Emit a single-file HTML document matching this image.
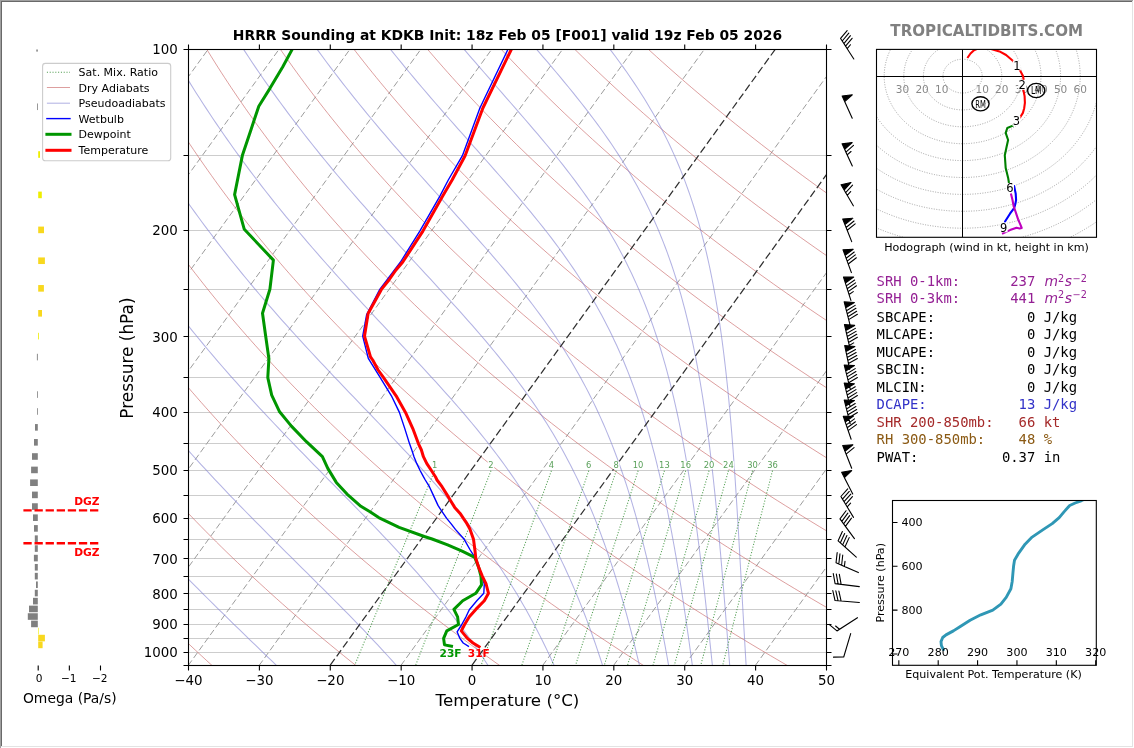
<!DOCTYPE html>
<html><head><meta charset="utf-8"><title>HRRR Sounding KDKB</title>
<style>html,body{margin:0;padding:0;background:#fff;overflow:hidden}svg{display:block}</style>
</head><body>
<svg width="1134" height="748" viewBox="0 0 1134 748">
<defs>
<clipPath id="cm"><rect x="188.5" y="49.5" width="638.0" height="616.0"/></clipPath>
<clipPath id="ch"><rect x="876.5" y="49.4" width="220" height="187.9"/></clipPath>
<clipPath id="ct"><rect x="892.5" y="500.5" width="203.8" height="164.8"/></clipPath>
<clipPath id="co"><rect x="0" y="49.5" width="180" height="616"/></clipPath>
</defs>
<g clip-path="url(#cm)">
<path d="M188.5 155.5H826.5M188.5 230.5H826.5M188.5 289.5H826.5M188.5 336.5H826.5M188.5 377.5H826.5M188.5 412.5H826.5M188.5 443.5H826.5M188.5 470.5H826.5M188.5 495.5H826.5M188.5 518.5H826.5M188.5 539.5H826.5M188.5 558.5H826.5M188.5 576.5H826.5M188.5 593.5H826.5M188.5 609.5H826.5M188.5 624.5H826.5M188.5 638.5H826.5M188.5 652.5H826.5" stroke="#cdcdcd" stroke-width="1.1" fill="none"/>
<path d="M-308.08 665.6L139.3 46.47M-237.19 665.6L210.19 46.47M-166.3 665.6L281.08 46.47M-95.42 665.6L351.97 46.47M-24.53 665.6L422.86 46.47M46.36 665.6L493.75 46.47M117.25 665.6L564.64 46.47M188.14 665.6L635.52 46.47M259.03 665.6L706.41 46.47M400.81 665.6L848.19 46.47M542.58 665.6L989.97 46.47M613.47 665.6L1060.86 46.47M684.36 665.6L1131.75 46.47M755.25 665.6L1202.64 46.47M826.14 665.6L1273.52 46.47" stroke="#9c9c9c" stroke-width="1.0" stroke-dasharray="6.4 3.0" fill="none"/>
<path d="M212.45 665.85 L206.79 660.69 L201.19 655.52 L195.64 650.36 L190.14 645.2 L184.69 640.04 L179.3 634.88 L173.95 629.72 L168.66 624.56 L163.42 619.39 L158.22 614.23 L153.08 609.07 L147.99 603.91 L142.94 598.75 L137.95 593.59 L133 588.42 L128.1 583.26 L123.25 578.1 L118.45 572.94 L113.7 567.78 L108.99 562.62 L104.33 557.46 L99.72 552.29 L95.15 547.13 L90.63 541.97 L86.16 536.81 L81.73 531.65 L77.35 526.49 L73.02 521.33 L68.73 516.16 L64.48 511 L60.28 505.84 L56.12 500.68 L52.01 495.52 L47.94 490.36 L43.91 485.19 L39.93 480.03 L35.99 474.87 L32.1 469.71 L28.24 464.55 L24.43 459.39 L20.67 454.23 L16.94 449.06 L13.25 443.9 L9.61 438.74 L6.01 433.58 L2.45 428.42 L-1.07 423.26 L-4.55 418.1 L-7.99 412.93 L-11.39 407.77 L-14.75 402.61 L-18.07 397.45 L-21.35 392.29 L-24.59 387.13 L-27.8 381.96 L-30.96 376.8 L-34.08 371.64 L-37.17 366.48 L-40.22 361.32 L-43.23 356.16 L-46.2 351 L-49.14 345.83 L-52.03 340.67 L-54.89 335.51 L-57.72 330.35 L-60.51 325.19 L-63.26 320.03 L-65.97 314.87 L-68.65 309.7 L-71.29 304.54 L-73.9 299.38 L-76.47 294.22 L-79.01 289.06 L-81.51 283.9 L-83.97 278.73 L-86.41 273.57 L-88.8 268.41 L-91.17 263.25 L-93.49 258.09 L-95.79 252.93 L-98.05 247.77 L-100.28 242.6 L-102.47 237.44 L-104.63 232.28 L-106.76 227.12 L-108.86 221.96 L-110.92 216.8 L-112.95 211.64 L-114.95 206.47 L-116.91 201.31 L-118.85 196.15 L-120.75 190.99 L-122.62 185.83 L-124.46 180.67 L-126.27 175.5 L-128.05 170.34 L-129.79 165.18 L-131.51 160.02 L-133.2 154.86 L-134.85 149.7 L-136.48 144.54 L-138.07 139.37 L-139.64 134.21 L-141.17 129.05 L-142.68 123.89 L-144.16 118.73 L-145.6 113.57 L-147.02 108.41 L-148.41 103.24 L-149.77 98.08 L-151.11 92.92 L-152.41 87.76 L-153.69 82.6 L-154.94 77.44 L-156.16 72.27 L-157.35 67.11 L-158.52 61.95 L-159.65 56.79 L-160.76 51.63 L-161.85 46.47M356.33 665.85 L349.87 660.69 L343.46 655.52 L337.12 650.36 L330.83 645.2 L324.59 640.04 L318.41 634.88 L312.29 629.72 L306.22 624.56 L300.21 619.39 L294.25 614.23 L288.35 609.07 L282.49 603.91 L276.7 598.75 L270.95 593.59 L265.26 588.42 L259.63 583.26 L254.04 578.1 L248.51 572.94 L243.03 567.78 L237.6 562.62 L232.22 557.46 L226.89 552.29 L221.61 547.13 L216.38 541.97 L211.21 536.81 L206.08 531.65 L201 526.49 L195.98 521.33 L191 516.16 L186.07 511 L181.19 505.84 L176.35 500.68 L171.57 495.52 L166.83 490.36 L162.14 485.19 L157.49 480.03 L152.9 474.87 L148.35 469.71 L143.84 464.55 L139.39 459.39 L134.97 454.23 L130.61 449.06 L126.29 443.9 L122.01 438.74 L117.78 433.58 L113.59 428.42 L109.45 423.26 L105.35 418.1 L101.3 412.93 L97.29 407.77 L93.32 402.61 L89.4 397.45 L85.51 392.29 L81.67 387.13 L77.88 381.96 L74.12 376.8 L70.41 371.64 L66.74 366.48 L63.11 361.32 L59.52 356.16 L55.97 351 L52.47 345.83 L49 340.67 L45.57 335.51 L42.19 330.35 L38.84 325.19 L35.54 320.03 L32.27 314.87 L29.04 309.7 L25.85 304.54 L22.7 299.38 L19.59 294.22 L16.52 289.06 L13.48 283.9 L10.48 278.73 L7.52 273.57 L4.6 268.41 L1.71 263.25 L-1.13 258.09 L-3.95 252.93 L-6.72 247.77 L-9.46 242.6 L-12.16 237.44 L-14.83 232.28 L-17.46 227.12 L-20.05 221.96 L-22.61 216.8 L-25.14 211.64 L-27.63 206.47 L-30.08 201.31 L-32.5 196.15 L-34.89 190.99 L-37.24 185.83 L-39.56 180.67 L-41.84 175.5 L-44.09 170.34 L-46.31 165.18 L-48.49 160.02 L-50.64 154.86 L-52.76 149.7 L-54.84 144.54 L-56.89 139.37 L-58.91 134.21 L-60.9 129.05 L-62.86 123.89 L-64.78 118.73 L-66.67 113.57 L-68.53 108.41 L-70.36 103.24 L-72.16 98.08 L-73.93 92.92 L-75.66 87.76 L-77.37 82.6 L-79.05 77.44 L-80.69 72.27 L-82.31 67.11 L-83.89 61.95 L-85.45 56.79 L-86.97 51.63 L-88.47 46.47M500.21 665.85 L492.94 660.69 L485.74 655.52 L478.59 650.36 L471.51 645.2 L464.49 640.04 L457.53 634.88 L450.63 629.72 L443.78 624.56 L437 619.39 L430.28 614.23 L423.61 609.07 L417 603.91 L410.45 598.75 L403.96 593.59 L397.53 588.42 L391.15 583.26 L384.83 578.1 L378.56 572.94 L372.35 567.78 L366.2 562.62 L360.1 557.46 L354.06 552.29 L348.07 547.13 L342.14 541.97 L336.26 536.81 L330.43 531.65 L324.66 526.49 L318.94 521.33 L313.27 516.16 L307.65 511 L302.09 505.84 L296.58 500.68 L291.12 495.52 L285.72 490.36 L280.36 485.19 L275.06 480.03 L269.8 474.87 L264.6 469.71 L259.44 464.55 L254.34 459.39 L249.28 454.23 L244.28 449.06 L239.32 443.9 L234.41 438.74 L229.55 433.58 L224.74 428.42 L219.98 423.26 L215.26 418.1 L210.59 412.93 L205.97 407.77 L201.39 402.61 L196.86 397.45 L192.38 392.29 L187.94 387.13 L183.55 381.96 L179.21 376.8 L174.9 371.64 L170.65 366.48 L166.44 361.32 L162.27 356.16 L158.15 351 L154.07 345.83 L150.04 340.67 L146.04 335.51 L142.1 330.35 L138.19 325.19 L134.33 320.03 L130.51 314.87 L126.73 309.7 L122.99 304.54 L119.3 299.38 L115.65 294.22 L112.04 289.06 L108.47 283.9 L104.94 278.73 L101.45 273.57 L98 268.41 L94.59 263.25 L91.22 258.09 L87.9 252.93 L84.61 247.77 L81.36 242.6 L78.15 237.44 L74.97 232.28 L71.84 227.12 L68.75 221.96 L65.69 216.8 L62.67 211.64 L59.69 206.47 L56.75 201.31 L53.84 196.15 L50.97 190.99 L48.14 185.83 L45.35 180.67 L42.59 175.5 L39.86 170.34 L37.18 165.18 L34.53 160.02 L31.91 154.86 L29.33 149.7 L26.79 144.54 L24.28 139.37 L21.81 134.21 L19.37 129.05 L16.96 123.89 L14.59 118.73 L12.26 113.57 L9.96 108.41 L7.69 103.24 L5.45 98.08 L3.25 92.92 L1.08 87.76 L-1.05 82.6 L-3.16 77.44 L-5.23 72.27 L-7.26 67.11 L-9.27 61.95 L-11.24 56.79 L-13.18 51.63 L-15.09 46.47M644.08 665.85 L636.01 660.69 L628.01 655.52 L620.07 650.36 L612.2 645.2 L604.39 640.04 L596.64 634.88 L588.96 629.72 L581.35 624.56 L573.79 619.39 L566.3 614.23 L558.88 609.07 L551.51 603.91 L544.21 598.75 L536.97 593.59 L529.79 588.42 L522.67 583.26 L515.62 578.1 L508.62 572.94 L501.68 567.78 L494.8 562.62 L487.99 557.46 L481.23 552.29 L474.53 547.13 L467.89 541.97 L461.3 536.81 L454.78 531.65 L448.31 526.49 L441.9 521.33 L435.54 516.16 L429.24 511 L423 505.84 L416.81 500.68 L410.68 495.52 L404.61 490.36 L398.58 485.19 L392.62 480.03 L386.71 474.87 L380.85 469.71 L375.04 464.55 L369.29 459.39 L363.59 454.23 L357.95 449.06 L352.35 443.9 L346.81 438.74 L341.32 433.58 L335.89 428.42 L330.5 423.26 L325.17 418.1 L319.88 412.93 L314.65 407.77 L309.46 402.61 L304.33 397.45 L299.25 392.29 L294.21 387.13 L289.22 381.96 L284.29 376.8 L279.4 371.64 L274.56 366.48 L269.77 361.32 L265.02 356.16 L260.32 351 L255.67 345.83 L251.07 340.67 L246.51 335.51 L242 330.35 L237.54 325.19 L233.12 320.03 L228.75 314.87 L224.42 309.7 L220.14 304.54 L215.9 299.38 L211.71 294.22 L207.56 289.06 L203.45 283.9 L199.39 278.73 L195.38 273.57 L191.4 268.41 L187.47 263.25 L183.58 258.09 L179.74 252.93 L175.93 247.77 L172.17 242.6 L168.46 237.44 L164.78 232.28 L161.14 227.12 L157.55 221.96 L153.99 216.8 L150.48 211.64 L147.01 206.47 L143.58 201.31 L140.19 196.15 L136.83 190.99 L133.52 185.83 L130.25 180.67 L127.02 175.5 L123.82 170.34 L120.66 165.18 L117.55 160.02 L114.47 154.86 L111.43 149.7 L108.42 144.54 L105.46 139.37 L102.53 134.21 L99.64 129.05 L96.79 123.89 L93.97 118.73 L91.19 113.57 L88.44 108.41 L85.74 103.24 L83.06 98.08 L80.43 92.92 L77.83 87.76 L75.26 82.6 L72.73 77.44 L70.24 72.27 L67.78 67.11 L65.36 61.95 L62.96 56.79 L60.61 51.63 L58.29 46.47M787.96 665.85 L779.09 660.69 L770.28 655.52 L761.55 650.36 L752.88 645.2 L744.29 640.04 L735.76 634.88 L727.3 629.72 L718.91 624.56 L710.59 619.39 L702.33 614.23 L694.14 609.07 L686.02 603.91 L677.97 598.75 L669.98 593.59 L662.06 588.42 L654.2 583.26 L646.4 578.1 L638.68 572.94 L631.01 567.78 L623.41 562.62 L615.87 557.46 L608.4 552.29 L600.99 547.13 L593.64 541.97 L586.35 536.81 L579.12 531.65 L571.96 526.49 L564.85 521.33 L557.81 516.16 L550.83 511 L543.91 505.84 L537.04 500.68 L530.24 495.52 L523.49 490.36 L516.81 485.19 L510.18 480.03 L503.61 474.87 L497.1 469.71 L490.64 464.55 L484.24 459.39 L477.9 454.23 L471.62 449.06 L465.39 443.9 L459.22 438.74 L453.1 433.58 L447.03 428.42 L441.03 423.26 L435.07 418.1 L429.17 412.93 L423.33 407.77 L417.54 402.61 L411.8 397.45 L406.11 392.29 L400.48 387.13 L394.9 381.96 L389.37 376.8 L383.89 371.64 L378.47 366.48 L373.09 361.32 L367.77 356.16 L362.5 351 L357.28 345.83 L352.1 340.67 L346.98 335.51 L341.91 330.35 L336.89 325.19 L331.91 320.03 L326.99 314.87 L322.11 309.7 L317.28 304.54 L312.5 299.38 L307.77 294.22 L303.08 289.06 L298.44 283.9 L293.85 278.73 L289.3 273.57 L284.8 268.41 L280.35 263.25 L275.94 258.09 L271.58 252.93 L267.26 247.77 L262.99 242.6 L258.76 237.44 L254.58 232.28 L250.44 227.12 L246.35 221.96 L242.3 216.8 L238.29 211.64 L234.33 206.47 L230.41 201.31 L226.53 196.15 L222.7 190.99 L218.9 185.83 L215.15 180.67 L211.44 175.5 L207.78 170.34 L204.15 165.18 L200.57 160.02 L197.02 154.86 L193.52 149.7 L190.06 144.54 L186.63 139.37 L183.25 134.21 L179.91 129.05 L176.61 123.89 L173.34 118.73 L170.12 113.57 L166.93 108.41 L163.79 103.24 L160.68 98.08 L157.61 92.92 L154.58 87.76 L151.58 82.6 L148.62 77.44 L145.71 72.27 L142.82 67.11 L139.98 61.95 L137.17 56.79 L134.4 51.63 L131.66 46.47M931.84 665.85 L922.16 660.69 L912.55 655.52 L903.02 650.36 L893.57 645.2 L884.18 640.04 L874.87 634.88 L865.64 629.72 L856.47 624.56 L847.38 619.39 L838.36 614.23 L829.41 609.07 L820.53 603.91 L811.72 598.75 L802.99 593.59 L794.32 588.42 L785.72 583.26 L777.19 578.1 L768.73 572.94 L760.34 567.78 L752.01 562.62 L743.76 557.46 L735.57 552.29 L727.44 547.13 L719.39 541.97 L711.4 536.81 L703.47 531.65 L695.61 526.49 L687.81 521.33 L680.08 516.16 L672.42 511 L664.81 505.84 L657.27 500.68 L649.8 495.52 L642.38 490.36 L635.03 485.19 L627.74 480.03 L620.51 474.87 L613.35 469.71 L606.24 464.55 L599.2 459.39 L592.21 454.23 L585.29 449.06 L578.42 443.9 L571.62 438.74 L564.87 433.58 L558.18 428.42 L551.55 423.26 L544.98 418.1 L538.46 412.93 L532.01 407.77 L525.61 402.61 L519.26 397.45 L512.98 392.29 L506.75 387.13 L500.57 381.96 L494.45 376.8 L488.39 371.64 L482.38 366.48 L476.42 361.32 L470.52 356.16 L464.67 351 L458.88 345.83 L453.14 340.67 L447.45 335.51 L441.82 330.35 L436.23 325.19 L430.7 320.03 L425.23 314.87 L419.8 309.7 L414.42 304.54 L409.1 299.38 L403.82 294.22 L398.6 289.06 L393.43 283.9 L388.3 278.73 L383.23 273.57 L378.2 268.41 L373.23 263.25 L368.3 258.09 L363.42 252.93 L358.59 247.77 L353.81 242.6 L349.07 237.44 L344.39 232.28 L339.75 227.12 L335.15 221.96 L330.6 216.8 L326.1 211.64 L321.65 206.47 L317.24 201.31 L312.88 196.15 L308.56 190.99 L304.28 185.83 L300.06 180.67 L295.87 175.5 L291.73 170.34 L287.64 165.18 L283.58 160.02 L279.58 154.86 L275.61 149.7 L271.69 144.54 L267.81 139.37 L263.97 134.21 L260.18 129.05 L256.43 123.89 L252.72 118.73 L249.05 113.57 L245.42 108.41 L241.84 103.24 L238.29 98.08 L234.79 92.92 L231.32 87.76 L227.9 82.6 L224.52 77.44 L221.17 72.27 L217.87 67.11 L214.6 61.95 L211.38 56.79 L208.19 51.63 L205.04 46.47M1075.72 665.85 L1065.23 660.69 L1054.83 655.52 L1044.5 650.36 L1034.25 645.2 L1024.08 640.04 L1013.99 634.88 L1003.97 629.72 L994.03 624.56 L984.17 619.39 L974.39 614.23 L964.68 609.07 L955.04 603.91 L945.48 598.75 L936 593.59 L926.58 588.42 L917.25 583.26 L907.98 578.1 L898.79 572.94 L889.67 567.78 L880.62 562.62 L871.64 557.46 L862.74 552.29 L853.9 547.13 L845.14 541.97 L836.44 536.81 L827.82 531.65 L819.26 526.49 L810.77 521.33 L802.35 516.16 L794 511 L785.72 505.84 L777.5 500.68 L769.35 495.52 L761.27 490.36 L753.25 485.19 L745.3 480.03 L737.42 474.87 L729.6 469.71 L721.84 464.55 L714.15 459.39 L706.52 454.23 L698.96 449.06 L691.46 443.9 L684.02 438.74 L676.64 433.58 L669.33 428.42 L662.08 423.26 L654.89 418.1 L647.76 412.93 L640.69 407.77 L633.68 402.61 L626.73 397.45 L619.84 392.29 L613.01 387.13 L606.24 381.96 L599.53 376.8 L592.88 371.64 L586.29 366.48 L579.75 361.32 L573.27 356.16 L566.85 351 L560.48 345.83 L554.17 340.67 L547.92 335.51 L541.72 330.35 L535.58 325.19 L529.5 320.03 L523.46 314.87 L517.49 309.7 L511.57 304.54 L505.7 299.38 L499.88 294.22 L494.12 289.06 L488.41 283.9 L482.76 278.73 L477.16 273.57 L471.61 268.41 L466.11 263.25 L460.66 258.09 L455.26 252.93 L449.92 247.77 L444.63 242.6 L439.38 237.44 L434.19 232.28 L429.05 227.12 L423.95 221.96 L418.91 216.8 L413.91 211.64 L408.97 206.47 L404.07 201.31 L399.22 196.15 L394.42 190.99 L389.67 185.83 L384.96 180.67 L380.3 175.5 L375.69 170.34 L371.12 165.18 L366.6 160.02 L362.13 154.86 L357.7 149.7 L353.32 144.54 L348.99 139.37 L344.7 134.21 L340.45 129.05 L336.25 123.89 L332.09 118.73 L327.98 113.57 L323.91 108.41 L319.89 103.24 L315.9 98.08 L311.97 92.92 L308.07 87.76 L304.22 82.6 L300.41 77.44 L296.64 72.27 L292.91 67.11 L289.23 61.95 L285.58 56.79 L281.98 51.63 L278.42 46.47M1219.6 665.85 L1208.31 660.69 L1197.1 655.52 L1185.98 650.36 L1174.94 645.2 L1163.98 640.04 L1153.1 634.88 L1142.31 629.72 L1131.6 624.56 L1120.97 619.39 L1110.41 614.23 L1099.94 609.07 L1089.55 603.91 L1079.24 598.75 L1069 593.59 L1058.85 588.42 L1048.77 583.26 L1038.77 578.1 L1028.84 572.94 L1019 567.78 L1009.22 562.62 L999.53 557.46 L989.91 552.29 L980.36 547.13 L970.89 541.97 L961.49 536.81 L952.16 531.65 L942.91 526.49 L933.73 521.33 L924.63 516.16 L915.59 511 L906.63 505.84 L897.73 500.68 L888.91 495.52 L880.16 490.36 L871.48 485.19 L862.87 480.03 L854.32 474.87 L845.85 469.71 L837.44 464.55 L829.1 459.39 L820.83 454.23 L812.63 449.06 L804.49 443.9 L796.42 438.74 L788.41 433.58 L780.47 428.42 L772.6 423.26 L764.79 418.1 L757.05 412.93 L749.37 407.77 L741.75 402.61 L734.2 397.45 L726.71 392.29 L719.28 387.13 L711.92 381.96 L704.62 376.8 L697.37 371.64 L690.2 366.48 L683.08 361.32 L676.02 356.16 L669.02 351 L662.09 345.83 L655.21 340.67 L648.39 335.51 L641.63 330.35 L634.93 325.19 L628.29 320.03 L621.7 314.87 L615.18 309.7 L608.71 304.54 L602.3 299.38 L595.94 294.22 L589.64 289.06 L583.4 283.9 L577.21 278.73 L571.08 273.57 L565.01 268.41 L558.99 263.25 L553.02 258.09 L547.11 252.93 L541.25 247.77 L535.44 242.6 L529.69 237.44 L523.99 232.28 L518.35 227.12 L512.75 221.96 L507.21 216.8 L501.72 211.64 L496.29 206.47 L490.9 201.31 L485.57 196.15 L480.28 190.99 L475.05 185.83 L469.86 180.67 L464.73 175.5 L459.64 170.34 L454.61 165.18 L449.62 160.02 L444.69 154.86 L439.8 149.7 L434.96 144.54 L430.16 139.37 L425.42 134.21 L420.72 129.05 L416.07 123.89 L411.47 118.73 L406.91 113.57 L402.4 108.41 L397.94 103.24 L393.52 98.08 L389.14 92.92 L384.82 87.76 L380.53 82.6 L376.3 77.44 L372.1 72.27 L367.95 67.11 L363.85 61.95 L359.79 56.79 L355.77 51.63 L351.8 46.47M1363.48 665.85 L1351.38 660.69 L1339.37 655.52 L1327.45 650.36 L1315.62 645.2 L1303.88 640.04 L1292.22 634.88 L1280.65 629.72 L1269.16 624.56 L1257.76 619.39 L1246.44 614.23 L1235.21 609.07 L1224.06 603.91 L1213 598.75 L1202.01 593.59 L1191.11 588.42 L1180.29 583.26 L1169.56 578.1 L1158.9 572.94 L1148.32 567.78 L1137.83 562.62 L1127.41 557.46 L1117.08 552.29 L1106.82 547.13 L1096.64 541.97 L1086.54 536.81 L1076.51 531.65 L1066.56 526.49 L1056.69 521.33 L1046.9 516.16 L1037.18 511 L1027.53 505.84 L1017.96 500.68 L1008.47 495.52 L999.05 490.36 L989.7 485.19 L980.43 480.03 L971.23 474.87 L962.1 469.71 L953.04 464.55 L944.05 459.39 L935.14 454.23 L926.3 449.06 L917.52 443.9 L908.82 438.74 L900.19 433.58 L891.62 428.42 L883.13 423.26 L874.7 418.1 L866.34 412.93 L858.05 407.77 L849.82 402.61 L841.67 397.45 L833.57 392.29 L825.55 387.13 L817.59 381.96 L809.7 376.8 L801.87 371.64 L794.1 366.48 L786.4 361.32 L778.77 356.16 L771.2 351 L763.69 345.83 L756.24 340.67 L748.86 335.51 L741.54 330.35 L734.28 325.19 L727.08 320.03 L719.94 314.87 L712.87 309.7 L705.85 304.54 L698.9 299.38 L692 294.22 L685.16 289.06 L678.39 283.9 L671.67 278.73 L665.01 273.57 L658.41 268.41 L651.86 263.25 L645.38 258.09 L638.95 252.93 L632.58 247.77 L626.26 242.6 L620 237.44 L613.8 232.28 L607.65 227.12 L601.56 221.96 L595.52 216.8 L589.53 211.64 L583.61 206.47 L577.73 201.31 L571.91 196.15 L566.14 190.99 L560.43 185.83 L554.77 180.67 L549.16 175.5 L543.6 170.34 L538.09 165.18 L532.64 160.02 L527.24 154.86 L521.89 149.7 L516.59 144.54 L511.34 139.37 L506.14 134.21 L500.99 129.05 L495.89 123.89 L490.84 118.73 L485.84 113.57 L480.89 108.41 L475.98 103.24 L471.13 98.08 L466.32 92.92 L461.56 87.76 L456.85 82.6 L452.19 77.44 L447.57 72.27 L443 67.11 L438.47 61.95 L433.99 56.79 L429.56 51.63 L425.18 46.47M1507.35 665.85 L1494.45 660.69 L1481.65 655.52 L1468.93 650.36 L1456.31 645.2 L1443.77 640.04 L1431.33 634.88 L1418.98 629.72 L1406.72 624.56 L1394.55 619.39 L1382.47 614.23 L1370.48 609.07 L1358.57 603.91 L1346.75 598.75 L1335.02 593.59 L1323.38 588.42 L1311.82 583.26 L1300.34 578.1 L1288.96 572.94 L1277.65 567.78 L1266.43 562.62 L1255.3 557.46 L1244.25 552.29 L1233.28 547.13 L1222.39 541.97 L1211.58 536.81 L1200.86 531.65 L1190.22 526.49 L1179.65 521.33 L1169.17 516.16 L1158.77 511 L1148.44 505.84 L1138.2 500.68 L1128.03 495.52 L1117.94 490.36 L1107.93 485.19 L1097.99 480.03 L1088.13 474.87 L1078.35 469.71 L1068.64 464.55 L1059.01 459.39 L1049.45 454.23 L1039.97 449.06 L1030.56 443.9 L1021.22 438.74 L1011.96 433.58 L1002.77 428.42 L993.65 423.26 L984.61 418.1 L975.63 412.93 L966.73 407.77 L957.9 402.61 L949.13 397.45 L940.44 392.29 L931.82 387.13 L923.26 381.96 L914.78 376.8 L906.36 371.64 L898.01 366.48 L889.73 361.32 L881.52 356.16 L873.37 351 L865.29 345.83 L857.28 340.67 L849.33 335.51 L841.44 330.35 L833.63 325.19 L825.87 320.03 L818.18 314.87 L810.56 309.7 L802.99 304.54 L795.5 299.38 L788.06 294.22 L780.69 289.06 L773.37 283.9 L766.12 278.73 L758.94 273.57 L751.81 268.41 L744.74 263.25 L737.74 258.09 L730.79 252.93 L723.9 247.77 L717.08 242.6 L710.31 237.44 L703.6 232.28 L696.95 227.12 L690.36 221.96 L683.82 216.8 L677.35 211.64 L670.92 206.47 L664.56 201.31 L658.25 196.15 L652 190.99 L645.81 185.83 L639.67 180.67 L633.59 175.5 L627.56 170.34 L621.58 165.18 L615.66 160.02 L609.79 154.86 L603.98 149.7 L598.22 144.54 L592.52 139.37 L586.86 134.21 L581.26 129.05 L575.71 123.89 L570.22 118.73 L564.77 113.57 L559.38 108.41 L554.03 103.24 L548.74 98.08 L543.5 92.92 L538.31 87.76 L533.17 82.6 L528.08 77.44 L523.03 72.27 L518.04 67.11 L513.1 61.95 L508.2 56.79 L503.35 51.63 L498.55 46.47M1651.23 665.85 L1637.53 660.69 L1623.92 655.52 L1610.41 650.36 L1596.99 645.2 L1583.67 640.04 L1570.45 634.88 L1557.32 629.72 L1544.29 624.56 L1531.34 619.39 L1518.5 614.23 L1505.74 609.07 L1493.08 603.91 L1480.51 598.75 L1468.03 593.59 L1455.64 588.42 L1443.34 583.26 L1431.13 578.1 L1419.01 572.94 L1406.98 567.78 L1395.04 562.62 L1383.18 557.46 L1371.42 552.29 L1359.73 547.13 L1348.14 541.97 L1336.63 536.81 L1325.21 531.65 L1313.87 526.49 L1302.61 521.33 L1291.44 516.16 L1280.35 511 L1269.35 505.84 L1258.43 500.68 L1247.59 495.52 L1236.83 490.36 L1226.15 485.19 L1215.55 480.03 L1205.03 474.87 L1194.6 469.71 L1184.24 464.55 L1173.96 459.39 L1163.76 454.23 L1153.64 449.06 L1143.59 443.9 L1133.62 438.74 L1123.73 433.58 L1113.92 428.42 L1104.18 423.26 L1094.51 418.1 L1084.92 412.93 L1075.41 407.77 L1065.97 402.61 L1056.6 397.45 L1047.31 392.29 L1038.09 387.13 L1028.94 381.96 L1019.86 376.8 L1010.86 371.64 L1001.92 366.48 L993.06 361.32 L984.27 356.16 L975.55 351 L966.89 345.83 L958.31 340.67 L949.8 335.51 L941.35 330.35 L932.97 325.19 L924.66 320.03 L916.42 314.87 L908.25 309.7 L900.14 304.54 L892.1 299.38 L884.12 294.22 L876.21 289.06 L868.36 283.9 L860.58 278.73 L852.86 273.57 L845.21 268.41 L837.62 263.25 L830.1 258.09 L822.63 252.93 L815.23 247.77 L807.89 242.6 L800.62 237.44 L793.4 232.28 L786.25 227.12 L779.16 221.96 L772.13 216.8 L765.16 211.64 L758.24 206.47 L751.39 201.31 L744.6 196.15 L737.87 190.99 L731.19 185.83 L724.57 180.67 L718.01 175.5 L711.51 170.34 L705.07 165.18 L698.68 160.02 L692.35 154.86 L686.07 149.7 L679.86 144.54 L673.69 139.37 L667.58 134.21 L661.53 129.05 L655.53 123.89 L649.59 118.73 L643.7 113.57 L637.87 108.41 L632.08 103.24 L626.36 98.08 L620.68 92.92 L615.06 87.76 L609.49 82.6 L603.97 77.44 L598.5 72.27 L593.08 67.11 L587.72 61.95 L582.41 56.79 L577.14 51.63 L571.93 46.47M1795.11 665.85 L1780.6 660.69 L1766.19 655.52 L1751.88 650.36 L1737.68 645.2 L1723.57 640.04 L1709.56 634.88 L1695.66 629.72 L1681.85 624.56 L1668.14 619.39 L1654.52 614.23 L1641.01 609.07 L1627.59 603.91 L1614.27 598.75 L1601.04 593.59 L1587.9 588.42 L1574.87 583.26 L1561.92 578.1 L1549.07 572.94 L1536.31 567.78 L1523.64 562.62 L1511.07 557.46 L1498.59 552.29 L1486.19 547.13 L1473.89 541.97 L1461.68 536.81 L1449.55 531.65 L1437.52 526.49 L1425.57 521.33 L1413.71 516.16 L1401.94 511 L1390.25 505.84 L1378.66 500.68 L1367.14 495.52 L1355.71 490.36 L1344.37 485.19 L1333.11 480.03 L1321.94 474.87 L1310.85 469.71 L1299.84 464.55 L1288.91 459.39 L1278.07 454.23 L1267.31 449.06 L1256.62 443.9 L1246.02 438.74 L1235.5 433.58 L1225.06 428.42 L1214.7 423.26 L1204.42 418.1 L1194.21 412.93 L1184.09 407.77 L1174.04 402.61 L1164.07 397.45 L1154.17 392.29 L1144.35 387.13 L1134.61 381.96 L1124.94 376.8 L1115.35 371.64 L1105.83 366.48 L1096.39 361.32 L1087.02 356.16 L1077.72 351 L1068.5 345.83 L1059.35 340.67 L1050.27 335.51 L1041.26 330.35 L1032.32 325.19 L1023.46 320.03 L1014.66 314.87 L1005.94 309.7 L997.28 304.54 L988.69 299.38 L980.18 294.22 L971.73 289.06 L963.35 283.9 L955.04 278.73 L946.79 273.57 L938.61 268.41 L930.5 263.25 L922.45 258.09 L914.47 252.93 L906.56 247.77 L898.71 242.6 L890.93 237.44 L883.21 232.28 L875.55 227.12 L867.96 221.96 L860.43 216.8 L852.97 211.64 L845.56 206.47 L838.22 201.31 L830.94 196.15 L823.73 190.99 L816.57 185.83 L809.48 180.67 L802.44 175.5 L795.47 170.34 L788.55 165.18 L781.7 160.02 L774.9 154.86 L768.17 149.7 L761.49 144.54 L754.87 139.37 L748.31 134.21 L741.8 129.05 L735.36 123.89 L728.97 118.73 L722.63 113.57 L716.36 108.41 L710.13 103.24 L703.97 98.08 L697.86 92.92 L691.8 87.76 L685.8 82.6 L679.86 77.44 L673.97 72.27 L668.13 67.11 L662.34 61.95 L656.61 56.79 L650.93 51.63 L645.31 46.47" stroke="#c86464" stroke-opacity="0.62" stroke-width="1.0" fill="none"/>
<path d="M276.9 665.85 L271.55 660.69 L266.19 655.52 L260.83 650.36 L255.48 645.2 L250.13 640.04 L244.8 634.88 L239.47 629.72 L234.17 624.56 L228.88 619.39 L223.61 614.23 L218.36 609.07 L213.14 603.91 L207.95 598.75 L202.78 593.59 L197.65 588.42 L192.55 583.26 L187.48 578.1 L182.44 572.94 L177.45 567.78 L172.48 562.62 L167.56 557.46 L162.67 552.29 L157.83 547.13 L153.02 541.97 L148.26 536.81 L143.53 531.65 L138.85 526.49 L134.21 521.33 L129.61 516.16 L125.05 511 L120.54 505.84 L116.07 500.68 L111.64 495.52 L107.26 490.36 L102.92 485.19 L98.62 480.03 L94.36 474.87 L90.15 469.71 L85.98 464.55 L81.86 459.39 L77.77 454.23 L73.73 449.06 L69.74 443.9 L65.78 438.74 L61.87 433.58 L58 428.42 L54.17 423.26 L50.38 418.1 L46.64 412.93 L42.94 407.77 L39.27 402.61 L35.65 397.45 L32.07 392.29 L28.54 387.13 L25.04 381.96 L21.58 376.8 L18.16 371.64 L14.78 366.48 L11.44 361.32 L8.14 356.16 L4.88 351 L1.66 345.83 L-1.52 340.67 L-4.66 335.51 L-7.77 330.35 L-10.83 325.19 L-13.86 320.03 L-16.85 314.87 L-19.8 309.7 L-22.72 304.54 L-25.6 299.38 L-28.44 294.22 L-31.25 289.06 L-34.01 283.9 L-36.75 278.73 L-39.44 273.57 L-42.1 268.41 L-44.73 263.25 L-47.31 258.09 L-49.87 252.93 L-52.39 247.77 L-54.87 242.6 L-57.32 237.44 L-59.73 232.28 L-62.11 227.12 L-64.46 221.96 L-66.77 216.8 L-69.04 211.64 L-71.29 206.47 L-73.5 201.31 L-75.68 196.15 L-77.82 190.99 L-79.93 185.83 L-82.01 180.67 L-84.06 175.5 L-86.07 170.34 L-88.05 165.18 L-90 160.02 L-91.92 154.86 L-93.8 149.7 L-95.66 144.54 L-97.48 139.37 L-99.28 134.21 L-101.04 129.05 L-102.77 123.89 L-104.47 118.73 L-106.14 113.57 L-107.78 108.41 L-109.39 103.24 L-110.97 98.08 L-112.52 92.92 L-114.04 87.76 L-115.53 82.6 L-116.99 77.44 L-118.42 72.27 L-119.83 67.11 L-121.2 61.95 L-122.55 56.79 L-123.87 51.63 L-125.16 46.47M396.72 665.85 L392.11 660.69 L387.44 655.52 L382.71 650.36 L377.93 645.2 L373.09 640.04 L368.21 634.88 L363.28 629.72 L358.31 624.56 L353.3 619.39 L348.25 614.23 L343.18 609.07 L338.07 603.91 L332.93 598.75 L327.78 593.59 L322.6 588.42 L317.41 583.26 L312.21 578.1 L307.01 572.94 L301.8 567.78 L296.59 562.62 L291.38 557.46 L286.18 552.29 L280.98 547.13 L275.8 541.97 L270.64 536.81 L265.49 531.65 L260.36 526.49 L255.26 521.33 L250.17 516.16 L245.12 511 L240.09 505.84 L235.1 500.68 L230.13 495.52 L225.2 490.36 L220.3 485.19 L215.44 480.03 L210.61 474.87 L205.82 469.71 L201.07 464.55 L196.36 459.39 L191.69 454.23 L187.06 449.06 L182.47 443.9 L177.92 438.74 L173.41 433.58 L168.94 428.42 L164.52 423.26 L160.14 418.1 L155.8 412.93 L151.5 407.77 L147.25 402.61 L143.03 397.45 L138.86 392.29 L134.74 387.13 L130.65 381.96 L126.61 376.8 L122.61 371.64 L118.66 366.48 L114.74 361.32 L110.87 356.16 L107.04 351 L103.25 345.83 L99.5 340.67 L95.79 335.51 L92.13 330.35 L88.51 325.19 L84.92 320.03 L81.38 314.87 L77.88 309.7 L74.42 304.54 L71 299.38 L67.61 294.22 L64.27 289.06 L60.97 283.9 L57.71 278.73 L54.48 273.57 L51.3 268.41 L48.15 263.25 L45.04 258.09 L41.97 252.93 L38.94 247.77 L35.95 242.6 L32.99 237.44 L30.07 232.28 L27.19 227.12 L24.35 221.96 L21.54 216.8 L18.77 211.64 L16.03 206.47 L13.33 201.31 L10.67 196.15 L8.04 190.99 L5.45 185.83 L2.89 180.67 L0.37 175.5 L-2.11 170.34 L-4.56 165.18 L-6.98 160.02 L-9.36 154.86 L-11.71 149.7 L-14.03 144.54 L-16.31 139.37 L-18.55 134.21 L-20.77 129.05 L-22.95 123.89 L-25.09 118.73 L-27.21 113.57 L-29.29 108.41 L-31.34 103.24 L-33.35 98.08 L-35.34 92.92 L-37.29 87.76 L-39.21 82.6 L-41.1 77.44 L-42.96 72.27 L-44.78 67.11 L-46.58 61.95 L-48.34 56.79 L-50.08 51.63 L-51.78 46.47M488.31 665.85 L484.94 660.69 L481.5 655.52 L478 650.36 L474.43 645.2 L470.79 640.04 L467.08 634.88 L463.31 629.72 L459.46 624.56 L455.55 619.39 L451.56 614.23 L447.51 609.07 L443.38 603.91 L439.19 598.75 L434.93 593.59 L430.61 588.42 L426.22 583.26 L421.76 578.1 L417.25 572.94 L412.68 567.78 L408.05 562.62 L403.36 557.46 L398.63 552.29 L393.84 547.13 L389.02 541.97 L384.15 536.81 L379.24 531.65 L374.3 526.49 L369.32 521.33 L364.33 516.16 L359.3 511 L354.26 505.84 L349.21 500.68 L344.14 495.52 L339.06 490.36 L333.98 485.19 L328.9 480.03 L323.82 474.87 L318.75 469.71 L313.69 464.55 L308.64 459.39 L303.61 454.23 L298.59 449.06 L293.59 443.9 L288.62 438.74 L283.67 433.58 L278.74 428.42 L273.85 423.26 L268.99 418.1 L264.15 412.93 L259.35 407.77 L254.59 402.61 L249.86 397.45 L245.16 392.29 L240.51 387.13 L235.89 381.96 L231.31 376.8 L226.77 371.64 L222.27 366.48 L217.81 361.32 L213.39 356.16 L209.02 351 L204.68 345.83 L200.39 340.67 L196.14 335.51 L191.93 330.35 L187.76 325.19 L183.63 320.03 L179.55 314.87 L175.51 309.7 L171.51 304.54 L167.55 299.38 L163.63 294.22 L159.76 289.06 L155.93 283.9 L152.14 278.73 L148.39 273.57 L144.68 268.41 L141.01 263.25 L137.39 258.09 L133.8 252.93 L130.26 247.77 L126.76 242.6 L123.29 237.44 L119.87 232.28 L116.49 227.12 L113.14 221.96 L109.84 216.8 L106.57 211.64 L103.35 206.47 L100.16 201.31 L97.01 196.15 L93.9 190.99 L90.83 185.83 L87.8 180.67 L84.8 175.5 L81.84 170.34 L78.92 165.18 L76.04 160.02 L73.19 154.86 L70.38 149.7 L67.61 144.54 L64.87 139.37 L62.17 134.21 L59.5 129.05 L56.87 123.89 L54.28 118.73 L51.72 113.57 L49.2 108.41 L46.71 103.24 L44.26 98.08 L41.84 92.92 L39.46 87.76 L37.11 82.6 L34.79 77.44 L32.51 72.27 L30.26 67.11 L28.04 61.95 L25.86 56.79 L23.71 51.63 L21.6 46.47M554.33 665.85 L551.97 660.69 L549.57 655.52 L547.13 650.36 L544.63 645.2 L542.08 640.04 L539.49 634.88 L536.83 629.72 L534.13 624.56 L531.36 619.39 L528.54 614.23 L525.66 609.07 L522.72 603.91 L519.71 598.75 L516.65 593.59 L513.51 588.42 L510.31 583.26 L507.05 578.1 L503.71 572.94 L500.31 567.78 L496.83 562.62 L493.28 557.46 L489.66 552.29 L485.97 547.13 L482.21 541.97 L478.38 536.81 L474.47 531.65 L470.49 526.49 L466.44 521.33 L462.32 516.16 L458.14 511 L453.88 505.84 L449.56 500.68 L445.18 495.52 L440.73 490.36 L436.23 485.19 L431.67 480.03 L427.06 474.87 L422.39 469.71 L417.69 464.55 L412.94 459.39 L408.15 454.23 L403.32 449.06 L398.46 443.9 L393.58 438.74 L388.68 433.58 L383.75 428.42 L378.81 423.26 L373.86 418.1 L368.9 412.93 L363.93 407.77 L358.97 402.61 L354.01 397.45 L349.06 392.29 L344.11 387.13 L339.18 381.96 L334.27 376.8 L329.37 371.64 L324.5 366.48 L319.64 361.32 L314.81 356.16 L310.01 351 L305.24 345.83 L300.5 340.67 L295.79 335.51 L291.12 330.35 L286.48 325.19 L281.87 320.03 L277.3 314.87 L272.77 309.7 L268.28 304.54 L263.82 299.38 L259.41 294.22 L255.03 289.06 L250.7 283.9 L246.41 278.73 L242.15 273.57 L237.94 268.41 L233.77 263.25 L229.64 258.09 L225.56 252.93 L221.51 247.77 L217.51 242.6 L213.54 237.44 L209.62 232.28 L205.75 227.12 L201.91 221.96 L198.11 216.8 L194.36 211.64 L190.64 206.47 L186.97 201.31 L183.34 196.15 L179.75 190.99 L176.2 185.83 L172.69 180.67 L169.22 175.5 L165.79 170.34 L162.4 165.18 L159.05 160.02 L155.74 154.86 L152.47 149.7 L149.24 144.54 L146.04 139.37 L142.89 134.21 L139.77 129.05 L136.69 123.89 L133.65 118.73 L130.65 113.57 L127.69 108.41 L124.76 103.24 L121.87 98.08 L119.02 92.92 L116.2 87.76 L113.42 82.6 L110.68 77.44 L107.97 72.27 L105.3 67.11 L102.67 61.95 L100.07 56.79 L97.5 51.63 L94.97 46.47M602.71 665.85 L601.04 660.69 L599.34 655.52 L597.61 650.36 L595.85 645.2 L594.06 640.04 L592.23 634.88 L590.37 629.72 L588.48 624.56 L586.54 619.39 L584.57 614.23 L582.56 609.07 L580.51 603.91 L578.42 598.75 L576.28 593.59 L574.1 588.42 L571.87 583.26 L569.59 578.1 L567.26 572.94 L564.89 567.78 L562.45 562.62 L559.97 557.46 L557.42 552.29 L554.82 547.13 L552.16 541.97 L549.44 536.81 L546.66 531.65 L543.81 526.49 L540.9 521.33 L537.92 516.16 L534.87 511 L531.76 505.84 L528.57 500.68 L525.31 495.52 L521.98 490.36 L518.57 485.19 L515.09 480.03 L511.54 474.87 L507.91 469.71 L504.21 464.55 L500.44 459.39 L496.59 454.23 L492.66 449.06 L488.67 443.9 L484.6 438.74 L480.46 433.58 L476.26 428.42 L471.99 423.26 L467.66 418.1 L463.27 412.93 L458.82 407.77 L454.31 402.61 L449.76 397.45 L445.16 392.29 L440.51 387.13 L435.83 381.96 L431.11 376.8 L426.35 371.64 L421.57 366.48 L416.77 361.32 L411.95 356.16 L407.11 351 L402.26 345.83 L397.41 340.67 L392.55 335.51 L387.69 330.35 L382.84 325.19 L377.99 320.03 L373.16 314.87 L368.33 309.7 L363.53 304.54 L358.74 299.38 L353.97 294.22 L349.23 289.06 L344.52 283.9 L339.83 278.73 L335.17 273.57 L330.54 268.41 L325.94 263.25 L321.38 258.09 L316.85 252.93 L312.36 247.77 L307.91 242.6 L303.49 237.44 L299.11 232.28 L294.77 227.12 L290.47 221.96 L286.21 216.8 L281.99 211.64 L277.81 206.47 L273.67 201.31 L269.57 196.15 L265.51 190.99 L261.49 185.83 L257.52 180.67 L253.58 175.5 L249.69 170.34 L245.84 165.18 L242.03 160.02 L238.26 154.86 L234.53 149.7 L230.84 144.54 L227.2 139.37 L223.59 134.21 L220.03 129.05 L216.5 123.89 L213.02 118.73 L209.57 113.57 L206.17 108.41 L202.8 103.24 L199.48 98.08 L196.19 92.92 L192.94 87.76 L189.74 82.6 L186.57 77.44 L183.44 72.27 L180.34 67.11 L177.29 61.95 L174.27 56.79 L171.29 51.63 L168.35 46.47M639.56 665.85 L638.34 660.69 L637.1 655.52 L635.84 650.36 L634.57 645.2 L633.27 640.04 L631.96 634.88 L630.63 629.72 L629.27 624.56 L627.89 619.39 L626.49 614.23 L625.06 609.07 L623.6 603.91 L622.12 598.75 L620.62 593.59 L619.08 588.42 L617.51 583.26 L615.91 578.1 L614.28 572.94 L612.62 567.78 L610.92 562.62 L609.19 557.46 L607.42 552.29 L605.61 547.13 L603.76 541.97 L601.87 536.81 L599.94 531.65 L597.96 526.49 L595.93 521.33 L593.86 516.16 L591.74 511 L589.57 505.84 L587.35 500.68 L585.07 495.52 L582.74 490.36 L580.35 485.19 L577.91 480.03 L575.4 474.87 L572.83 469.71 L570.2 464.55 L567.5 459.39 L564.73 454.23 L561.9 449.06 L559 443.9 L556.02 438.74 L552.98 433.58 L549.86 428.42 L546.66 423.26 L543.39 418.1 L540.05 412.93 L536.63 407.77 L533.13 402.61 L529.55 397.45 L525.9 392.29 L522.18 387.13 L518.37 381.96 L514.5 376.8 L510.55 371.64 L506.53 366.48 L502.44 361.32 L498.28 356.16 L494.05 351 L489.77 345.83 L485.42 340.67 L481.02 335.51 L476.57 330.35 L472.07 325.19 L467.52 320.03 L462.94 314.87 L458.31 309.7 L453.66 304.54 L448.97 299.38 L444.27 294.22 L439.54 289.06 L434.8 283.9 L430.05 278.73 L425.29 273.57 L420.52 268.41 L415.76 263.25 L411 258.09 L406.25 252.93 L401.51 247.77 L396.79 242.6 L392.08 237.44 L387.39 232.28 L382.72 227.12 L378.08 221.96 L373.46 216.8 L368.87 211.64 L364.31 206.47 L359.78 201.31 L355.28 196.15 L350.82 190.99 L346.39 185.83 L342 180.67 L337.64 175.5 L333.33 170.34 L329.05 165.18 L324.81 160.02 L320.6 154.86 L316.44 149.7 L312.32 144.54 L308.24 139.37 L304.2 134.21 L300.2 129.05 L296.24 123.89 L292.32 118.73 L288.44 113.57 L284.6 108.41 L280.81 103.24 L277.05 98.08 L273.34 92.92 L269.66 87.76 L266.03 82.6 L262.44 77.44 L258.88 72.27 L255.37 67.11 L251.9 61.95 L248.47 56.79 L245.07 51.63 L241.72 46.47M668.68 665.85 L667.76 660.69 L666.84 655.52 L665.9 650.36 L664.96 645.2 L664 640.04 L663.03 634.88 L662.05 629.72 L661.05 624.56 L660.05 619.39 L659.02 614.23 L657.99 609.07 L656.93 603.91 L655.86 598.75 L654.78 593.59 L653.68 588.42 L652.55 583.26 L651.41 578.1 L650.25 572.94 L649.07 567.78 L647.86 562.62 L646.64 557.46 L645.39 552.29 L644.11 547.13 L642.81 541.97 L641.49 536.81 L640.13 531.65 L638.75 526.49 L637.34 521.33 L635.89 516.16 L634.42 511 L632.91 505.84 L631.36 500.68 L629.78 495.52 L628.17 490.36 L626.51 485.19 L624.82 480.03 L623.08 474.87 L621.3 469.71 L619.48 464.55 L617.61 459.39 L615.69 454.23 L613.72 449.06 L611.71 443.9 L609.64 438.74 L607.52 433.58 L605.34 428.42 L603.1 423.26 L600.81 418.1 L598.45 412.93 L596.03 407.77 L593.55 402.61 L591 397.45 L588.38 392.29 L585.7 387.13 L582.94 381.96 L580.12 376.8 L577.21 371.64 L574.24 366.48 L571.19 361.32 L568.06 356.16 L564.85 351 L561.57 345.83 L558.21 340.67 L554.77 335.51 L551.25 330.35 L547.65 325.19 L543.97 320.03 L540.22 314.87 L536.39 309.7 L532.49 304.54 L528.52 299.38 L524.48 294.22 L520.37 289.06 L516.19 283.9 L511.96 278.73 L507.66 273.57 L503.31 268.41 L498.91 263.25 L494.47 258.09 L489.98 252.93 L485.45 247.77 L480.89 242.6 L476.3 237.44 L471.69 232.28 L467.05 227.12 L462.4 221.96 L457.74 216.8 L453.07 211.64 L448.39 206.47 L443.71 201.31 L439.04 196.15 L434.38 190.99 L429.72 185.83 L425.08 180.67 L420.46 175.5 L415.86 170.34 L411.27 165.18 L406.71 160.02 L402.18 154.86 L397.67 149.7 L393.2 144.54 L388.75 139.37 L384.34 134.21 L379.96 129.05 L375.61 123.89 L371.31 118.73 L367.03 113.57 L362.8 108.41 L358.6 103.24 L354.44 98.08 L350.32 92.92 L346.24 87.76 L342.2 82.6 L338.2 77.44 L334.24 72.27 L330.32 67.11 L326.44 61.95 L322.61 56.79 L318.81 51.63 L315.05 46.47M692.39 665.85 L691.69 660.69 L690.98 655.52 L690.27 650.36 L689.56 645.2 L688.84 640.04 L688.11 634.88 L687.38 629.72 L686.64 624.56 L685.89 619.39 L685.13 614.23 L684.37 609.07 L683.59 603.91 L682.81 598.75 L682.01 593.59 L681.21 588.42 L680.39 583.26 L679.57 578.1 L678.73 572.94 L677.88 567.78 L677.01 562.62 L676.13 557.46 L675.24 552.29 L674.33 547.13 L673.4 541.97 L672.46 536.81 L671.5 531.65 L670.52 526.49 L669.53 521.33 L668.51 516.16 L667.47 511 L666.41 505.84 L665.33 500.68 L664.23 495.52 L663.1 490.36 L661.95 485.19 L660.77 480.03 L659.56 474.87 L658.33 469.71 L657.07 464.55 L655.77 459.39 L654.45 454.23 L653.09 449.06 L651.7 443.9 L650.27 438.74 L648.8 433.58 L647.3 428.42 L645.76 423.26 L644.18 418.1 L642.55 412.93 L640.89 407.77 L639.17 402.61 L637.41 397.45 L635.6 392.29 L633.74 387.13 L631.83 381.96 L629.87 376.8 L627.85 371.64 L625.77 366.48 L623.63 361.32 L621.44 356.16 L619.18 351 L616.85 345.83 L614.46 340.67 L612.01 335.51 L609.48 330.35 L606.88 325.19 L604.21 320.03 L601.47 314.87 L598.65 309.7 L595.76 304.54 L592.78 299.38 L589.73 294.22 L586.6 289.06 L583.39 283.9 L580.1 278.73 L576.72 273.57 L573.27 268.41 L569.74 263.25 L566.13 258.09 L562.44 252.93 L558.68 247.77 L554.84 242.6 L550.92 237.44 L546.94 232.28 L542.89 227.12 L538.77 221.96 L534.59 216.8 L530.36 211.64 L526.07 206.47 L521.73 201.31 L517.35 196.15 L512.92 190.99 L508.46 185.83 L503.97 180.67 L499.45 175.5 L494.9 170.34 L490.34 165.18 L485.76 160.02 L481.17 154.86 L476.58 149.7 L471.98 144.54 L467.39 139.37 L462.8 134.21 L458.22 129.05 L453.65 123.89 L449.1 118.73 L444.57 113.57 L440.06 108.41 L435.57 103.24 L431.1 98.08 L426.67 92.92 L422.26 87.76 L417.88 82.6 L413.53 77.44 L409.22 72.27 L404.94 67.11 L400.7 61.95 L396.49 56.79 L392.32 51.63 L388.18 46.47M712.43 665.85 L711.89 660.69 L711.35 655.52 L710.81 650.36 L710.27 645.2 L709.72 640.04 L709.17 634.88 L708.62 629.72 L708.06 624.56 L707.5 619.39 L706.94 614.23 L706.37 609.07 L705.8 603.91 L705.23 598.75 L704.65 593.59 L704.06 588.42 L703.46 583.26 L702.86 578.1 L702.26 572.94 L701.64 567.78 L701.02 562.62 L700.39 557.46 L699.75 552.29 L699.1 547.13 L698.45 541.97 L697.78 536.81 L697.1 531.65 L696.41 526.49 L695.71 521.33 L694.99 516.16 L694.27 511 L693.53 505.84 L692.77 500.68 L692.01 495.52 L691.22 490.36 L690.42 485.19 L689.61 480.03 L688.77 474.87 L687.92 469.71 L687.05 464.55 L686.16 459.39 L685.25 454.23 L684.31 449.06 L683.36 443.9 L682.38 438.74 L681.38 433.58 L680.35 428.42 L679.3 423.26 L678.22 418.1 L677.11 412.93 L675.97 407.77 L674.8 402.61 L673.6 397.45 L672.37 392.29 L671.1 387.13 L669.8 381.96 L668.46 376.8 L667.08 371.64 L665.67 366.48 L664.21 361.32 L662.71 356.16 L661.17 351 L659.58 345.83 L657.94 340.67 L656.26 335.51 L654.53 330.35 L652.74 325.19 L650.9 320.03 L649 314.87 L647.05 309.7 L645.03 304.54 L642.96 299.38 L640.82 294.22 L638.62 289.06 L636.35 283.9 L634.01 278.73 L631.61 273.57 L629.13 268.41 L626.58 263.25 L623.95 258.09 L621.24 252.93 L618.46 247.77 L615.6 242.6 L612.66 237.44 L609.64 232.28 L606.54 227.12 L603.35 221.96 L600.08 216.8 L596.73 211.64 L593.3 206.47 L589.79 201.31 L586.2 196.15 L582.53 190.99 L578.78 185.83 L574.96 180.67 L571.07 175.5 L567.11 170.34 L563.08 165.18 L558.99 160.02 L554.84 154.86 L550.63 149.7 L546.37 144.54 L542.07 139.37 L537.72 134.21 L533.34 129.05 L528.92 123.89 L524.48 118.73 L520.01 113.57 L515.52 108.41 L511.02 103.24 L506.5 98.08 L501.99 92.92 L497.47 87.76 L492.95 82.6 L488.43 77.44 L483.93 72.27 L479.44 67.11 L474.96 61.95 L470.51 56.79 L466.07 51.63 L461.66 46.47M729.74 665.85 L729.33 660.69 L728.91 655.52 L728.5 650.36 L728.08 645.2 L727.67 640.04 L727.26 634.88 L726.84 629.72 L726.43 624.56 L726.01 619.39 L725.6 614.23 L725.18 609.07 L724.76 603.91 L724.34 598.75 L723.92 593.59 L723.49 588.42 L723.07 583.26 L722.64 578.1 L722.2 572.94 L721.76 567.78 L721.32 562.62 L720.88 557.46 L720.43 552.29 L719.97 547.13 L719.51 541.97 L719.05 536.81 L718.58 531.65 L718.1 526.49 L717.61 521.33 L717.12 516.16 L716.62 511 L716.11 505.84 L715.6 500.68 L715.07 495.52 L714.54 490.36 L713.99 485.19 L713.44 480.03 L712.87 474.87 L712.3 469.71 L711.71 464.55 L711.11 459.39 L710.49 454.23 L709.86 449.06 L709.22 443.9 L708.57 438.74 L707.89 433.58 L707.2 428.42 L706.5 423.26 L705.77 418.1 L705.03 412.93 L704.27 407.77 L703.49 402.61 L702.69 397.45 L701.86 392.29 L701.01 387.13 L700.14 381.96 L699.25 376.8 L698.33 371.64 L697.38 366.48 L696.41 361.32 L695.41 356.16 L694.38 351 L693.31 345.83 L692.22 340.67 L691.09 335.51 L689.93 330.35 L688.73 325.19 L687.5 320.03 L686.22 314.87 L684.91 309.7 L683.55 304.54 L682.16 299.38 L680.71 294.22 L679.23 289.06 L677.69 283.9 L676.1 278.73 L674.47 273.57 L672.78 268.41 L671.03 263.25 L669.23 258.09 L667.37 252.93 L665.45 247.77 L663.47 242.6 L661.42 237.44 L659.31 232.28 L657.13 227.12 L654.88 221.96 L652.56 216.8 L650.16 211.64 L647.69 206.47 L645.15 201.31 L642.52 196.15 L639.82 190.99 L637.03 185.83 L634.17 180.67 L631.22 175.5 L628.19 170.34 L625.07 165.18 L621.87 160.02 L618.59 154.86 L615.22 149.7 L611.78 144.54 L608.25 139.37 L604.64 134.21 L600.95 129.05 L597.19 123.89 L593.36 118.73 L589.45 113.57 L585.48 108.41 L581.45 103.24 L577.35 98.08 L573.21 92.92 L569.01 87.76 L564.76 82.6 L560.48 77.44 L556.15 72.27 L551.8 67.11 L547.42 61.95 L543.01 56.79 L538.59 51.63 L534.15 46.47M746.15 665.85 L745.84 660.69 L745.53 655.52 L745.22 650.36 L744.92 645.2 L744.62 640.04 L744.32 634.88 L744.02 629.72 L743.72 624.56 L743.43 619.39 L743.13 614.23 L742.84 609.07 L742.55 603.91 L742.26 598.75 L741.97 593.59 L741.68 588.42 L741.39 583.26 L741.1 578.1 L740.81 572.94 L740.51 567.78 L740.22 562.62 L739.93 557.46 L739.63 552.29 L739.34 547.13 L739.04 541.97 L738.74 536.81 L738.43 531.65 L738.13 526.49 L737.82 521.33 L737.51 516.16 L737.19 511 L736.87 505.84 L736.55 500.68 L736.22 495.52 L735.88 490.36 L735.54 485.19 L735.2 480.03 L734.85 474.87 L734.49 469.71 L734.12 464.55 L733.75 459.39 L733.37 454.23 L732.99 449.06 L732.59 443.9 L732.19 438.74 L731.77 433.58 L731.35 428.42 L730.91 423.26 L730.47 418.1 L730.01 412.93 L729.54 407.77 L729.06 402.61 L728.57 397.45 L728.06 392.29 L727.54 387.13 L727.01 381.96 L726.45 376.8 L725.89 371.64 L725.3 366.48 L724.7 361.32 L724.08 356.16 L723.44 351 L722.78 345.83 L722.1 340.67 L721.4 335.51 L720.68 330.35 L719.93 325.19 L719.16 320.03 L718.36 314.87 L717.54 309.7 L716.69 304.54 L715.81 299.38 L714.91 294.22 L713.97 289.06 L713 283.9 L712 278.73 L710.96 273.57 L709.89 268.41 L708.78 263.25 L707.64 258.09 L706.45 252.93 L705.22 247.77 L703.95 242.6 L702.64 237.44 L701.28 232.28 L699.87 227.12 L698.42 221.96 L696.91 216.8 L695.35 211.64 L693.73 206.47 L692.06 201.31 L690.33 196.15 L688.54 190.99 L686.69 185.83 L684.77 180.67 L682.79 175.5 L680.74 170.34 L678.62 165.18 L676.42 160.02 L674.16 154.86 L671.81 149.7 L669.4 144.54 L666.9 139.37 L664.32 134.21 L661.66 129.05 L658.92 123.89 L656.09 118.73 L653.18 113.57 L650.18 108.41 L647.1 103.24 L643.93 98.08 L640.68 92.92 L637.35 87.76 L633.93 82.6 L630.43 77.44 L626.85 72.27 L623.19 67.11 L619.45 61.95 L615.65 56.79 L611.77 51.63 L607.83 46.47" stroke="#8080d0" stroke-opacity="0.6" stroke-width="1.05" fill="none"/>
<path d="M434.62 470.73L354.46 665.85M490.95 470.73L415.39 665.85M551.38 470.73L480.95 665.85M588.76 470.73L521.61 665.85M616.23 470.73L551.54 665.85M638.09 470.73L575.38 665.85M664.4 470.73L604.11 665.85M685.68 470.73L627.38 665.85M709 470.73L652.91 665.85M728.39 470.73L674.15 665.85M752.49 470.73L700.6 665.85M772.48 470.73L722.55 665.85" stroke="#2e8b2e" stroke-opacity="0.85" stroke-width="1.05" stroke-dasharray="1.05 1.75" fill="none"/>
<path d="M472.06 665.1L917.18 49.1M330.28 665.1L775.4 49.1" stroke="#303030" stroke-width="1.25" stroke-dasharray="7.6 3.3" fill="none"/>
<g font-family="'DejaVu Sans', 'Liberation Sans', sans-serif" font-size="8.4" fill="#5aa05a" text-anchor="middle"><rect x="431.35" y="461.23" width="6.54" height="8" fill="#fff"/><text x="434.62" y="468.13">1</text><rect x="487.67" y="461.23" width="6.54" height="8" fill="#fff"/><text x="490.95" y="468.13">2</text><rect x="548.11" y="461.23" width="6.54" height="8" fill="#fff"/><text x="551.38" y="468.13">4</text><rect x="585.49" y="461.23" width="6.54" height="8" fill="#fff"/><text x="588.76" y="468.13">6</text><rect x="612.96" y="461.23" width="6.54" height="8" fill="#fff"/><text x="616.23" y="468.13">8</text><rect x="632.15" y="461.23" width="11.88" height="8" fill="#fff"/><text x="638.09" y="468.13">10</text><rect x="658.45" y="461.23" width="11.88" height="8" fill="#fff"/><text x="664.4" y="468.13">13</text><rect x="679.74" y="461.23" width="11.88" height="8" fill="#fff"/><text x="685.68" y="468.13">16</text><rect x="703.06" y="461.23" width="11.88" height="8" fill="#fff"/><text x="709" y="468.13">20</text><rect x="722.44" y="461.23" width="11.88" height="8" fill="#fff"/><text x="728.39" y="468.13">24</text><rect x="746.55" y="461.23" width="11.88" height="8" fill="#fff"/><text x="752.49" y="468.13">30</text><rect x="766.53" y="461.23" width="11.88" height="8" fill="#fff"/><text x="772.48" y="468.13">36</text></g>
<polyline points="507.9,49.5 479.9,108 462.4,155.7 448.3,180 439.9,196.1 419.8,231.1 400.52,262 379.8,289.4 366.7,314.5 362.7,336.2 368.3,358.3 380.1,377.4 391.4,395.8 399.4,412.4 404.8,428.6 409.5,443.6 411.8,450 414,456.7 416.7,463.4 420.1,470.5 423.4,476.7 425.3,480 429.4,486.7 433.4,495.4 438,505.4 441.4,510.7 446.7,518.4 451.4,524.1 455.4,529.4 464.2,539.3 470.2,550 475.4,558.2 478.6,567.1 481.9,576.3 484.3,584 483.8,593.3 476.8,600.8 469.3,609.7 466,616.8 461.8,624.5 457.1,631.8 459.9,638.4 463.2,643 468.4,646.3" stroke="#0000ff" stroke-width="1.4" fill="none" stroke-linejoin="round" stroke-linecap="square"/>
<polyline points="292.2,49.4 282.8,66.7 270.1,88.1 258.8,106.2 254.1,120.2 250.9,130 242.5,154.9 234.6,194.6 244.3,229.3 273.4,260.1 269.9,289.2 262.5,313.2 265.7,336.3 268.9,358.7 267.8,377.6 271.7,395.1 279.6,411.8 291.4,426.1 306.4,441.7 322.4,456.7 327.8,468.4 336.3,482.4 347,494.1 360.9,506.3 370,511.8 378.7,517.6 399.1,527.3 424.3,536.5 432.1,539 447.6,544.8 462.1,551.1 474.8,557.4 478.6,567.1 481,576.3 481.5,584.9 475.8,593.3 462.7,600.8 453.9,609.4 457.6,616.8 458.5,624.5 446.8,630.9 443.6,638.4 444.5,644.9 451.5,646.3" stroke="#009600" stroke-width="3" fill="none" stroke-linejoin="round" stroke-linecap="square"/>
<polyline points="511.3,49.5 482.9,108 465.1,155.7 452.1,180 442.7,196.1 422.9,231.1 402.77,262 395.98,270 388.94,280 381.41,289.4 368.1,313.4 364.5,336.2 370.5,356.9 372.7,360 378.1,370 383.4,377.4 396.1,395.8 405.5,412.4 412.8,428.6 418.4,443.6 421.4,450 423.4,456.7 426.7,463.4 431.4,470.5 435.4,476.7 437,480 442,486.7 447.4,495.4 451.4,502 454.7,507.4 460.1,513.4 463.4,518.4 466.8,523.4 469.8,528.8 473.5,539.3 474.9,550 475.8,558.2 478.6,567.1 482.4,576.3 486.1,584 488.5,593.3 484.3,600.8 475.8,609.4 469.3,616.8 464.6,624.5 461.3,630.9 467.4,638.4 473,643 479.1,646.8" stroke="#ff0000" stroke-width="3" fill="none" stroke-linejoin="round" stroke-linecap="square"/>
</g>
<g font-family="'DejaVu Sans', 'Liberation Sans', sans-serif" font-weight="bold" font-size="10.6" text-anchor="middle">
<text x="450.6" y="657.4" fill="#009600">23F</text>
<text x="478.8" y="657.4" fill="#ff0000">31F</text>
</g>
<rect x="188.5" y="49.5" width="638.0" height="616.0" fill="none" stroke="#000" stroke-width="1.1"/>
<path d="M183.5 49.5H188.5M826.5 49.5H831.5M183.5 155.5H188.5M826.5 155.5H831.5M183.5 230.5H188.5M826.5 230.5H831.5M183.5 289.5H188.5M826.5 289.5H831.5M183.5 336.5H188.5M826.5 336.5H831.5M183.5 377.5H188.5M826.5 377.5H831.5M183.5 412.5H188.5M826.5 412.5H831.5M183.5 443.5H188.5M826.5 443.5H831.5M183.5 470.5H188.5M826.5 470.5H831.5M183.5 495.5H188.5M826.5 495.5H831.5M183.5 518.5H188.5M826.5 518.5H831.5M183.5 539.5H188.5M826.5 539.5H831.5M183.5 558.5H188.5M826.5 558.5H831.5M183.5 576.5H188.5M826.5 576.5H831.5M183.5 593.5H188.5M826.5 593.5H831.5M183.5 609.5H188.5M826.5 609.5H831.5M183.5 624.5H188.5M826.5 624.5H831.5M183.5 638.5H188.5M826.5 638.5H831.5M183.5 652.5H188.5M826.5 652.5H831.5M183.5 665.5H188.5M826.5 665.5H831.5M188.5 665.5V670.5M188.5 44.5V49.5M259.39 665.5V670.5M259.39 44.5V49.5M330.28 665.5V670.5M330.28 44.5V49.5M401.17 665.5V670.5M401.17 44.5V49.5M472.06 665.5V670.5M472.06 44.5V49.5M542.94 665.5V670.5M542.94 44.5V49.5M613.83 665.5V670.5M613.83 44.5V49.5M684.72 665.5V670.5M684.72 44.5V49.5M755.61 665.5V670.5M755.61 44.5V49.5M826.5 665.5V670.5M826.5 44.5V49.5" stroke="#000" stroke-width="1.1" fill="none"/>
<g font-family="'DejaVu Sans', 'Liberation Sans', sans-serif" font-size="13.4" fill="#000"><text x="177.9" y="53.85" text-anchor="end">100</text><text x="177.9" y="235.44" text-anchor="end">200</text><text x="177.9" y="341.66" text-anchor="end">300</text><text x="177.9" y="417.02" text-anchor="end">400</text><text x="177.9" y="475.48" text-anchor="end">500</text><text x="177.9" y="523.25" text-anchor="end">600</text><text x="177.9" y="563.63" text-anchor="end">700</text><text x="177.9" y="598.61" text-anchor="end">800</text><text x="177.9" y="629.47" text-anchor="end">900</text><text x="177.9" y="657.07" text-anchor="end">1000</text><text x="188.5" y="684.8" text-anchor="middle">−40</text><text x="259.39" y="684.8" text-anchor="middle">−30</text><text x="330.28" y="684.8" text-anchor="middle">−20</text><text x="401.17" y="684.8" text-anchor="middle">−10</text><text x="472.06" y="684.8" text-anchor="middle">0</text><text x="542.94" y="684.8" text-anchor="middle">10</text><text x="613.83" y="684.8" text-anchor="middle">20</text><text x="684.72" y="684.8" text-anchor="middle">30</text><text x="755.61" y="684.8" text-anchor="middle">40</text><text x="826.5" y="684.8" text-anchor="middle">50</text></g>
<text x="507.5" y="705.8" font-family="'DejaVu Sans', 'Liberation Sans', sans-serif" font-size="16.67" text-anchor="middle">Temperature (°C)</text>
<text transform="translate(133.3 358.1) rotate(-90)" font-family="'DejaVu Sans', 'Liberation Sans', sans-serif" font-size="16.9" text-anchor="middle">Pressure (hPa)</text>
<text x="507.5" y="40" font-family="'DejaVu Sans', 'Liberation Sans', sans-serif" font-size="13.89" font-weight="bold" text-anchor="middle">HRRR Sounding at KDKB Init: 18z Feb 05 [F001] valid 19z Feb 05 2026</text>
<text x="986.7" y="35.8" font-family="'DejaVu Sans', 'Liberation Sans', sans-serif" font-size="15.1" font-weight="bold" fill="#808080" text-anchor="middle">TROPICALTIDBITS.COM</text>
<path d="M853.82 58.95 L840.58 38.45 L847.13 30.59 L840.58 38.45 L842.24 41.01 L848.79 33.16 L842.24 41.01 L843.89 43.57 L850.44 35.72 L843.89 43.57 L845.55 46.14 L852.09 38.28 L845.55 46.14 L847.2 48.7 L850.47 44.77 L847.2 48.7ZM852.23 118.27 L842.17 96.04 L852.32 94.8 L844.69 101.6ZM852.32 166 L842.08 143.85 L852.22 142.52 L844.64 149.38 L845.92 152.15 L853.5 145.29 L845.92 152.15 L847.2 154.92 L850.99 151.49 L847.2 154.92ZM853.34 205.84 L841.06 184.77 L851.02 182.48 L844.13 190.04 L845.66 192.67 L852.56 185.12 L845.66 192.67 L847.2 195.3 L850.65 191.53 L847.2 195.3ZM851.69 241.63 L842.71 218.94 L852.91 218.19 L844.96 224.61 L846.08 227.45 L854.03 221.02 L846.08 227.45 L847.2 230.29 L855.15 223.86 L847.2 230.29ZM851.4 272.6 L843 249.69 L853.21 249.19 L845.1 255.42 L846.15 258.28 L854.26 252.05 L846.15 258.28 L847.2 261.14 L855.31 254.92 L847.2 261.14 L848.25 264.01 L856.36 257.78 L848.25 264.01ZM850.92 300.36 L843.48 277.13 L853.7 277.05 L845.34 282.94 L846.27 285.84 L854.63 279.96 L846.27 285.84 L847.2 288.74 L855.56 282.86 L847.2 288.74 L848.13 291.65 L856.49 285.77 L848.13 291.65 L849.06 294.55 L853.24 291.61 L849.06 294.55ZM850.22 325.53 L844.18 301.89 L854.39 302.43 L845.69 307.8 L846.45 310.76 L855.15 305.39 L846.45 310.76 L847.2 313.71 L855.9 308.34 L847.2 313.71 L847.95 316.67 L856.66 311.3 L847.95 316.67 L848.71 319.62 L857.41 314.25 L848.71 319.62ZM849.93 348.4 L844.47 324.62 L854.67 325.41 L845.84 330.56 L846.52 333.54 L855.35 328.38 L846.52 333.54 L847.2 336.51 L856.03 331.36 L847.2 336.51 L847.88 339.48 L856.71 334.33 L847.88 339.48 L848.56 342.45 L857.39 337.3 L848.56 342.45 L849.24 345.43 L853.66 342.85 L849.24 345.43ZM849.69 369.42 L844.71 345.53 L854.89 346.53 L845.96 351.51 L846.58 354.49 L855.51 349.52 L846.58 354.49 L847.2 357.48 L856.13 352.5 L847.2 357.48 L847.82 360.46 L856.75 355.49 L847.82 360.46 L848.44 363.45 L857.38 358.47 L848.44 363.45ZM850.16 388.73 L844.24 365.06 L854.45 365.65 L845.72 370.97 L846.46 373.93 L855.19 368.61 L846.46 373.93 L847.2 376.89 L855.93 371.57 L847.2 376.89 L847.94 379.85 L856.67 374.52 L847.94 379.85 L848.68 382.81 L857.41 377.48 L848.68 382.81ZM850.16 406.8 L844.24 383.13 L854.45 383.72 L845.72 389.05 L846.46 392.01 L855.19 386.68 L846.46 392.01 L847.2 394.97 L855.93 389.64 L847.2 394.97 L847.94 397.93 L856.67 392.6 L847.94 397.93 L848.68 400.88 L857.41 395.56 L848.68 400.88ZM850.16 423.71 L844.24 400.04 L854.45 400.63 L845.72 405.96 L846.46 408.91 L855.19 403.59 L846.46 408.91 L847.2 411.87 L855.93 406.55 L847.2 411.87 L847.94 414.83 L856.67 409.51 L847.94 414.83 L848.68 417.79 L857.41 412.47 L848.68 417.79ZM851.13 439.3 L843.27 416.21 L853.49 415.95 L845.23 421.98 L846.22 424.87 L854.47 418.84 L846.22 424.87 L847.2 427.76 L855.46 421.72 L847.2 427.76 L848.18 430.64 L856.44 424.61 L848.18 430.64ZM851.69 468.24 L842.71 445.55 L852.91 444.79 L844.96 451.22 L846.08 454.06 L854.03 447.63 L846.08 454.06ZM852.75 493.98 L841.65 472.25 L851.72 470.52 L844.42 477.68ZM853.5 517.39 L840.9 496.5 L847.69 488.85 L840.9 496.5 L842.48 499.11 L849.26 491.46 L842.48 499.11 L844.05 501.72 L850.83 494.07 L844.05 501.72 L845.63 504.33 L852.41 496.68 L845.63 504.33 L847.2 506.95 L850.59 503.12 L847.2 506.95ZM854.42 538.62 L839.98 518.95 L846.04 510.72 L839.98 518.95 L841.79 521.41 L847.85 513.18 L841.79 521.41 L843.59 523.87 L849.65 515.64 L843.59 523.87 L845.4 526.33 L851.46 518.1 L845.4 526.33ZM856.28 557.1 L838.12 540.8 L842.37 531.5 L838.12 540.8 L840.39 542.84 L844.64 533.54 L840.39 542.84 L842.66 544.88 L846.91 535.58 L842.66 544.88 L844.93 546.91 L849.18 537.61 L844.93 546.91ZM858.37 572.58 L836.03 562.76 L837.17 552.6 L836.03 562.76 L838.82 563.99 L839.96 553.83 L838.82 563.99 L841.62 565.22 L842.75 555.05 L841.62 565.22 L844.41 566.44 L844.98 561.36 L844.41 566.44ZM859.31 586.65 L835.09 583.64 L833.27 573.57 L835.09 583.64 L838.12 584.01 L836.3 573.95 L838.12 584.01 L841.15 584.39 L839.33 574.33 L841.15 584.39ZM859.36 602.52 L835.04 600.53 L832.8 590.55 L835.04 600.53 L838.08 600.78 L835.84 590.8 L838.08 600.78 L841.12 601.02 L838.88 591.05 L841.12 601.02ZM857.45 617.7 L836.95 630.94 L829.09 624.39 L836.95 630.94 L839.51 629.28 L835.59 626.01 L839.51 629.28ZM850.68 633.59 L843.72 656.98 L833.5 657.12 L843.72 656.98Z" fill="#000" stroke="#000" stroke-width="1.1" stroke-linejoin="round"/>
<g clip-path="url(#co)">
<rect x="36.3" y="45" width="1.5" height="6.6" fill="#808080"/>
<rect x="37" y="103.46" width="0.8" height="6.6" fill="#808080"/>
<rect x="38.2" y="151.22" width="1.8" height="6.6" fill="#eeee00"/>
<rect x="38.2" y="191.6" width="3.6" height="6.6" fill="#eeee00"/>
<rect x="38.2" y="226.59" width="5.8" height="6.6" fill="#f8d81e"/>
<rect x="38.2" y="257.44" width="6.7" height="6.6" fill="#f8d81e"/>
<rect x="38.2" y="285.04" width="5.7" height="6.6" fill="#f8d81e"/>
<rect x="38.2" y="310.01" width="3.8" height="6.6" fill="#f8d81e"/>
<rect x="38.2" y="332.81" width="0.8" height="6.6" fill="#eeee00"/>
<rect x="36.9" y="353.78" width="0.9" height="6.6" fill="#808080"/>
<rect x="37" y="391.27" width="0.8" height="6.6" fill="#808080"/>
<rect x="37" y="408.17" width="0.8" height="6.6" fill="#808080"/>
<rect x="35" y="424.06" width="2.8" height="6.6" fill="#808080"/>
<rect x="34" y="439.03" width="3.8" height="6.6" fill="#808080"/>
<rect x="32" y="453.19" width="5.8" height="6.6" fill="#808080"/>
<rect x="31.1" y="466.63" width="6.7" height="6.6" fill="#808080"/>
<rect x="30.1" y="479.41" width="7.7" height="6.6" fill="#808080"/>
<rect x="32" y="491.6" width="5.8" height="6.6" fill="#808080"/>
<rect x="32" y="503.25" width="5.8" height="6.6" fill="#808080"/>
<rect x="33" y="514.4" width="4.8" height="6.6" fill="#808080"/>
<rect x="34" y="525.09" width="3.8" height="6.6" fill="#808080"/>
<rect x="34.8" y="535.36" width="3" height="6.6" fill="#808080"/>
<rect x="34.8" y="545.25" width="3" height="6.6" fill="#808080"/>
<rect x="33.9" y="554.78" width="3.9" height="6.6" fill="#808080"/>
<rect x="34.8" y="563.97" width="3" height="6.6" fill="#808080"/>
<rect x="34.8" y="572.85" width="3" height="6.6" fill="#808080"/>
<rect x="36" y="581.44" width="1.8" height="6.6" fill="#808080"/>
<rect x="34.8" y="589.76" width="3" height="6.6" fill="#808080"/>
<rect x="33" y="597.82" width="4.8" height="6.6" fill="#808080"/>
<rect x="29" y="605.64" width="8.8" height="6.6" fill="#808080"/>
<rect x="27.8" y="613.24" width="10" height="6.6" fill="#808080"/>
<rect x="31.1" y="620.62" width="6.7" height="6.6" fill="#808080"/>
<rect x="38.2" y="627.79" width="0.6" height="6.6" fill="#eeee00"/>
<rect x="38.2" y="634.78" width="6.7" height="6.6" fill="#f8d81e"/>
<rect x="38.2" y="641.59" width="4.4" height="6.6" fill="#f8d81e"/>
</g>
<path d="M38.2 665.5V670.5M69.35 665.5V670.5M100.5 665.5V670.5" stroke="#000" stroke-width="1.1"/>
<g font-family="'DejaVu Sans', 'Liberation Sans', sans-serif" font-size="10.6" text-anchor="middle">
<text x="39.2" y="681.9">0</text>
<text x="68.8" y="681.9">−1</text>
<text x="99.7" y="681.9">−2</text>
</g>
<text x="69.8" y="703" font-family="'DejaVu Sans', 'Liberation Sans', sans-serif" font-size="13.89" text-anchor="middle">Omega (Pa/s)</text>
<path d="M23.4 510.4H98.6M23.4 543.3H98.6" stroke="#ff0000" stroke-width="2.4" stroke-dasharray="8.3 2.8"/>
<g font-family="'DejaVu Sans', 'Liberation Sans', sans-serif" font-size="10.7" font-weight="bold" fill="#ff0000" text-anchor="end">
<text x="99.6" y="505">DGZ</text><text x="99.6" y="556">DGZ</text></g>
<rect x="42.6" y="63.4" width="128.1" height="97.3" rx="2.8" fill="#fff" fill-opacity="0.8" stroke="#cccccc" stroke-width="1.1"/>
<path d="M46.9 72.2H70" stroke="#2e8b2e" stroke-opacity="0.85" stroke-width="1.05" stroke-dasharray="1.05 1.75"/>
<path d="M46.9 87.5H70" stroke="#c86464" stroke-opacity="0.62" stroke-width="1.0"/>
<path d="M46.9 103.2H70" stroke="#8080d0" stroke-opacity="0.6" stroke-width="1.05"/>
<path d="M46.9 118.6H70" stroke="#0000ff" stroke-width="1.4" stroke-linecap="square"/>
<path d="M46.9 134.3H70" stroke="#009600" stroke-width="3" stroke-linecap="square"/>
<path d="M46.9 150.3H70" stroke="#ff0000" stroke-width="3" stroke-linecap="square"/>
<g font-family="'DejaVu Sans', 'Liberation Sans', sans-serif" font-size="11">
<text x="78.6" y="76.2">Sat. Mix. Ratio</text>
<text x="78.6" y="91.5">Dry Adiabats</text>
<text x="78.6" y="107.2">Pseudoadiabats</text>
<text x="78.6" y="122.6">Wetbulb</text>
<text x="78.6" y="138.3">Dewpoint</text>
<text x="78.6" y="154.3">Temperature</text>
</g>
<g clip-path="url(#ch)">
<g fill="none" stroke="#999" stroke-width="0.9" stroke-dasharray="1 1.5"><ellipse cx="962.6" cy="76.1" rx="19.6" ry="16.9"/><ellipse cx="962.6" cy="76.1" rx="39.2" ry="33.8"/><ellipse cx="962.6" cy="76.1" rx="58.8" ry="50.7"/><ellipse cx="962.6" cy="76.1" rx="78.4" ry="67.6"/><ellipse cx="962.6" cy="76.1" rx="98" ry="84.5"/><ellipse cx="962.6" cy="76.1" rx="117.6" ry="101.4"/><ellipse cx="962.6" cy="76.1" rx="137.2" ry="118.3"/><ellipse cx="962.6" cy="76.1" rx="156.8" ry="135.2"/><ellipse cx="962.6" cy="76.1" rx="176.4" ry="152.1"/><ellipse cx="962.6" cy="76.1" rx="196" ry="169"/><ellipse cx="962.6" cy="76.1" rx="215.6" ry="185.9"/><ellipse cx="962.6" cy="76.1" rx="235.2" ry="202.8"/><ellipse cx="962.6" cy="76.1" rx="254.8" ry="219.7"/><ellipse cx="962.6" cy="76.1" rx="274.4" ry="236.6"/><ellipse cx="962.6" cy="76.1" rx="294" ry="253.5"/></g>
<path d="M876.5 76.5H1096.5M962.5 49.4V237.3" stroke="#000" stroke-width="1"/>
<g font-family="'DejaVu Sans', 'Liberation Sans', sans-serif" font-size="10.5" fill="#888" text-anchor="middle"><text x="902.5" y="92.9">30</text><text x="922.1" y="92.9">20</text><text x="941.7" y="92.9">10</text><text x="982.2" y="92.9">10</text><text x="1001.8" y="92.9">20</text><text x="1021.4" y="92.9">30</text><text x="1041" y="92.9">40</text><text x="1060.6" y="92.9">50</text><text x="1080.2" y="92.9">60</text></g>
<polyline points="967.4,58 970.5,53.5 974,50.2 978,48.6 990.1,48.8 999.5,51.4 1006.1,55 1012.8,60.7 1016.8,65.4 1020.2,70.7 1022.9,75.8 1023.5,78.8 1023.5,90.8 1024.6,96.1 1024.9,102.8 1024.2,108.2 1022.9,112.9 1020.2,117.3 1016.4,120.9" fill="none" stroke="#ff0000" stroke-width="2.1" stroke-linejoin="round"/>
<polyline points="1016.4,120.9 1012.9,125.6 1007.3,128 1005.7,132.8 1008.1,140 1006.5,147.3 1004.8,155.3 1005.7,168.1 1008.1,177.7 1008.9,182.5 1010,188" fill="none" stroke="#008000" stroke-width="2.1" stroke-linejoin="round"/>
<polyline points="1010,188 1014.1,186 1015.7,193.6 1016.1,200 1015.3,204.1 1014.1,208.1 1010,213.7 1005.2,221.3 1003.6,227.3" fill="none" stroke="#0000ff" stroke-width="2.1" stroke-linejoin="round"/>
<polyline points="1010.9,193.6 1012.5,200 1013.7,206.5 1015.7,212.1 1018.1,219.3 1020.5,224.9 1021.7,228 1019.7,228.5 1016.5,227.7 1010,230.1 1002,233.7" fill="none" stroke="#bf00bf" stroke-width="2.1" stroke-linejoin="round"/>
<rect x="1012.8" y="60.4" width="8" height="10" fill="#fff"/>
<text x="1016.8" y="69.6" font-family="'DejaVu Sans', 'Liberation Sans', sans-serif" font-size="11.5" text-anchor="middle">1</text>
<rect x="1018.2" y="79.8" width="8" height="10" fill="#fff"/>
<text x="1022.2" y="89" font-family="'DejaVu Sans', 'Liberation Sans', sans-serif" font-size="11.5" text-anchor="middle">2</text>
<rect x="1012.4" y="115.9" width="8" height="10" fill="#fff"/>
<text x="1016.4" y="125.1" font-family="'DejaVu Sans', 'Liberation Sans', sans-serif" font-size="11.5" text-anchor="middle">3</text>
<rect x="1006" y="183" width="8" height="10" fill="#fff"/>
<text x="1010" y="192.2" font-family="'DejaVu Sans', 'Liberation Sans', sans-serif" font-size="11.5" text-anchor="middle">6</text>
<rect x="999.6" y="222.3" width="8" height="10" fill="#fff"/>
<text x="1003.6" y="231.5" font-family="'DejaVu Sans', 'Liberation Sans', sans-serif" font-size="11.5" text-anchor="middle">9</text>
</g>
<ellipse cx="980.5" cy="103.8" rx="8.6" ry="7.1" fill="none" stroke="#000" stroke-width="1.4"/>
<text x="980.5" y="107.5" font-family="'DejaVu Sans', 'Liberation Sans', sans-serif" font-size="10.4" text-anchor="middle" textLength="10.6" lengthAdjust="spacingAndGlyphs">RM</text>
<ellipse cx="1036.2" cy="90.5" rx="8.6" ry="7.1" fill="none" stroke="#000" stroke-width="1.4"/>
<text x="1036.2" y="94.2" font-family="'DejaVu Sans', 'Liberation Sans', sans-serif" font-size="10.4" text-anchor="middle" textLength="10.6" lengthAdjust="spacingAndGlyphs">LM</text>
<rect x="876.5" y="49.4" width="220" height="187.9" fill="none" stroke="#000" stroke-width="1.1"/>
<text x="986.5" y="251.2" font-family="'DejaVu Sans', 'Liberation Sans', sans-serif" font-size="11.1" text-anchor="middle">Hodograph (wind in kt, height in km)</text>
<text x="876.6" y="286" font-family="'DejaVu Sans Mono', 'Liberation Mono', monospace" font-size="13.89" fill="#941f94" style="white-space:pre" xml:space="preserve">SRH 0-1km:      237</text>
<text x="1044.4" y="286" font-family="'DejaVu Sans', 'Liberation Sans', sans-serif" font-size="13.89" fill="#941f94"><tspan font-style="italic">m</tspan><tspan font-size="9.7" dy="-4.4">2</tspan><tspan font-style="italic" dy="4.4" dx="0.6">s</tspan><tspan font-size="9.7" dy="-4.4" dx="0.6">−2</tspan></text>
<text x="876.6" y="302.8" font-family="'DejaVu Sans Mono', 'Liberation Mono', monospace" font-size="13.89" fill="#941f94" style="white-space:pre" xml:space="preserve">SRH 0-3km:      441</text>
<text x="1044.4" y="302.8" font-family="'DejaVu Sans', 'Liberation Sans', sans-serif" font-size="13.89" fill="#941f94"><tspan font-style="italic">m</tspan><tspan font-size="9.7" dy="-4.4">2</tspan><tspan font-style="italic" dy="4.4" dx="0.6">s</tspan><tspan font-size="9.7" dy="-4.4" dx="0.6">−2</tspan></text>
<text x="876.6" y="321.6" font-family="'DejaVu Sans Mono', 'Liberation Mono', monospace" font-size="13.89" fill="#000" style="white-space:pre" xml:space="preserve">SBCAPE:           0 J/kg</text>
<text x="876.6" y="339.11" font-family="'DejaVu Sans Mono', 'Liberation Mono', monospace" font-size="13.89" fill="#000" style="white-space:pre" xml:space="preserve">MLCAPE:           0 J/kg</text>
<text x="876.6" y="356.62" font-family="'DejaVu Sans Mono', 'Liberation Mono', monospace" font-size="13.89" fill="#000" style="white-space:pre" xml:space="preserve">MUCAPE:           0 J/kg</text>
<text x="876.6" y="374.13" font-family="'DejaVu Sans Mono', 'Liberation Mono', monospace" font-size="13.89" fill="#000" style="white-space:pre" xml:space="preserve">SBCIN:            0 J/kg</text>
<text x="876.6" y="391.64" font-family="'DejaVu Sans Mono', 'Liberation Mono', monospace" font-size="13.89" fill="#000" style="white-space:pre" xml:space="preserve">MLCIN:            0 J/kg</text>
<text x="876.6" y="409.15" font-family="'DejaVu Sans Mono', 'Liberation Mono', monospace" font-size="13.89" fill="#3232c8" style="white-space:pre" xml:space="preserve">DCAPE:           13 J/kg</text>
<text x="876.6" y="426.66" font-family="'DejaVu Sans Mono', 'Liberation Mono', monospace" font-size="13.89" fill="#a52a2a" style="white-space:pre" xml:space="preserve">SHR 200-850mb:   66 kt</text>
<text x="876.6" y="444.17" font-family="'DejaVu Sans Mono', 'Liberation Mono', monospace" font-size="13.89" fill="#8b5a14" style="white-space:pre" xml:space="preserve">RH 300-850mb:    48 %</text>
<text x="876.6" y="461.68" font-family="'DejaVu Sans Mono', 'Liberation Mono', monospace" font-size="13.89" fill="#000" style="white-space:pre" xml:space="preserve">PWAT:          0.37 in</text>
<g clip-path="url(#ct)"><polyline points="943.4,649.6 941.4,645.6 941,641.6 942.7,637.5 946,634.9 953.4,630.9 960.7,626.2 970.1,620.2 980.8,614.8 992.8,610.1 1000.9,604.1 1006.2,597.4 1010.9,588.7 1012.2,581.4 1012.9,573.4 1013.6,566 1014.5,560.2 1018,554.2 1025.1,544.2 1032.1,537.1 1043.1,529.6 1052.2,523.6 1059.2,517.6 1064.2,511.6 1069.7,505.5 1075.2,503 1081.2,500.8 1085,499" fill="none" stroke="#2f97b5" stroke-width="2.9" stroke-linejoin="round" stroke-linecap="round"/></g>
<rect x="892.5" y="500.5" width="203.79999999999995" height="164.79999999999995" fill="none" stroke="#000" stroke-width="1.1"/>
<path d="M898.83 665.3V660.3M938.2 665.3V660.3M977.58 665.3V660.3M1016.95 665.3V660.3M1056.33 665.3V660.3M1095.7 665.3V660.3M892.5 522.43H897.5M892.5 566.29H897.5M892.5 610.15H897.5M892.5 654.01H897.5" stroke="#000" stroke-width="1.1"/>
<g font-family="'DejaVu Sans', 'Liberation Sans', sans-serif" font-size="11.1"><text x="898.83" y="656" text-anchor="middle">270</text><text x="938.2" y="656" text-anchor="middle">280</text><text x="977.58" y="656" text-anchor="middle">290</text><text x="1016.95" y="656" text-anchor="middle">300</text><text x="1056.33" y="656" text-anchor="middle">310</text><text x="1095.7" y="656" text-anchor="middle">320</text><text x="901.5" y="526.43">400</text><text x="901.5" y="570.29">600</text><text x="901.5" y="614.15">800</text></g>
<text x="993.5" y="677.7" font-family="'DejaVu Sans', 'Liberation Sans', sans-serif" font-size="11.1" text-anchor="middle">Equivalent Pot. Temperature (K)</text>
<text transform="translate(884.3 582.8) rotate(-90)" font-family="'DejaVu Sans', 'Liberation Sans', sans-serif" font-size="11.1" text-anchor="middle">Pressure (hPa)</text>
<rect x="0" y="0" width="1133" height="1" fill="#a0a0a0"/>
<rect x="0" y="0" width="1" height="748" fill="#a0a0a0"/>
<rect x="1" y="1" width="1131" height="1" fill="#696969"/>
<rect x="1" y="1" width="1" height="746" fill="#696969"/>
<rect x="1132" y="1" width="1" height="746" fill="#e3e3e3"/>
<rect x="1" y="746" width="1132" height="1" fill="#e3e3e3"/>
</svg>
</body></html>
